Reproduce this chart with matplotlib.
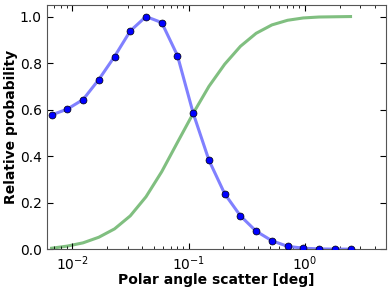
import matplotlib
matplotlib.use("Agg")
import matplotlib.pyplot as plt
import numpy as np

angle_deg = [0.00664, 0.00906, 0.01238, 0.01690, 0.02309, 0.03154, 0.04307,
             0.05884, 0.08035, 0.1098, 0.1500, 0.2048, 0.2798, 0.3821,
             0.5220, 0.7130, 0.974, 1.330, 1.817, 2.48]
rel_prob = [0.577, 0.602, 0.643, 0.729, 0.828, 0.938, 1.0, 0.974, 0.832, 0.584,
            0.382, 0.238, 0.143, 0.077, 0.036, 0.012, 0.004, 0.001, 0.0, 0.0]
cumulative = [0.004, 0.013, 0.027, 0.051, 0.087, 0.143, 0.225, 0.333, 0.459, 0.584,
              0.70, 0.795, 0.872, 0.928, 0.964, 0.984, 0.994, 0.998, 0.999, 1.0]

fig = plt.figure(figsize=(3.91, 2.89), dpi=100)
ax = fig.add_axes([0.119, 0.138, 0.868, 0.845])

ax.plot(angle_deg, rel_prob, '-', color=(0.5, 0.5, 1.0), lw=2.2, zorder=2)
ax.plot(angle_deg, rel_prob, 'o', color='#0000ff', mec='black', mew=0.5, ms=5, zorder=3)
ax.plot(angle_deg, cumulative, '-', color=(0.5, 0.75, 0.5), lw=2.2, zorder=1)

ax.set_xscale('log')
ax.set_xlim(0.006, 5.0)
ax.set_ylim(0, 1.05)
ax.set_yticks([0.0, 0.2, 0.4, 0.6, 0.8, 1.0])
ax.set_xlabel('Polar angle scatter [deg]', fontsize=10, fontweight='bold', labelpad=0.5)
ax.set_ylabel('Relative probability', fontsize=10, fontweight='bold', labelpad=1)
ax.tick_params(axis='both', which='both', direction='in', top=True, right=True, labelsize=10)
ax.tick_params(which='major', length=4)
ax.tick_params(which='minor', length=2)
for s in ax.spines.values():
    s.set_color('#555555')

fig.savefig('out.png', dpi=100)
